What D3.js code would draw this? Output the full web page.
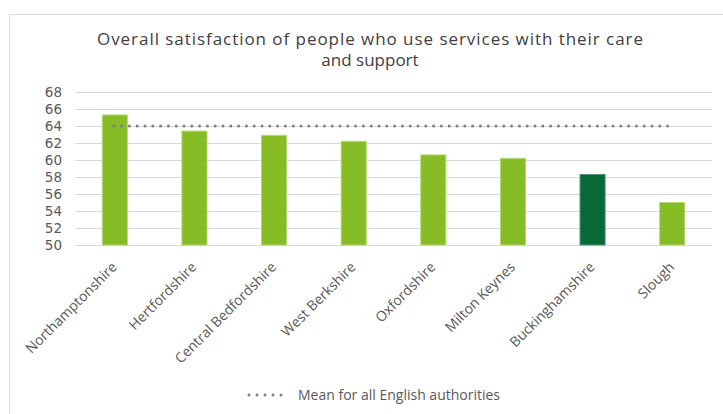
<!DOCTYPE html>
<html>
<head>
<meta charset="utf-8">
<script src="https://cdn.jsdelivr.net/npm/d3@7"></script>
<style>
  html, body { margin: 0; padding: 0; background: #fff; }
  svg { display: block; }
</style>
</head>
<body>
<svg id="chart" width="723" height="414"></svg>
<script>
// Local authorities and their overall satisfaction scores
const authorities = ["Northamptonshire", "Hertfordshire", "Central Bedfordshire", "West Berkshire",
                     "Oxfordshire", "Milton Keynes", "Buckinghamshire", "Slough"];
const satisfaction = [65.3, 63.4, 62.9, 62.2, 60.6, 60.2, 58.3, 55.0];
const englandMean = 64.0;
const highlighted = "Buckinghamshire";
const yTicks = [50, 52, 54, 56, 58, 60, 62, 64, 66, 68];
const titleLines = ["Overall satisfaction of people who use services with their care", "and support"];
const legendLabel = "Mean for all English authorities";

const svg = d3.select("#chart");
const W = 723, H = 414;
const plot = { left: 75, right: 712, top: 92, bottom: 245 };

// Outer chart frame
svg.append("rect")
  .attr("x", 9.5).attr("y", 14.5)
  .attr("width", W).attr("height", H)
  .attr("fill", "#fff").attr("stroke", "#d9d9d9");

// Title (first line spread to its full width)
svg.append("text")
  .attr("text-anchor", "middle")
  .attr("font-family", "'Open Sans', sans-serif")
  .attr("font-size", 17)
  .attr("fill", "#404040")
  .selectAll("tspan").data(titleLines).join("tspan")
  .attr("x", 370).attr("y", (d, i) => 45 + i * 21)
  .attr("textLength", (d, i) => i === 0 ? 546 : null)
  .attr("lengthAdjust", "spacing")
  .text(d => d);

const x = d3.scaleBand().domain(authorities).range([plot.left, plot.right]).paddingInner(0.685).paddingOuter(0.3425);
const y = d3.scaleLinear().domain([50, 68]).range([plot.bottom, plot.top]);

// Horizontal gridlines
svg.append("g")
  .selectAll("line").data(yTicks).join("line")
  .attr("x1", plot.left).attr("x2", plot.right)
  .attr("y1", d => Math.round(y(d)) + 0.5).attr("y2", d => Math.round(y(d)) + 0.5)
  .attr("stroke", "#d9d9d9").attr("stroke-width", 1);

// Y axis labels
const yAxis = d3.axisLeft(y).tickValues(yTicks).tickSize(0).tickPadding(0);
const gy = svg.append("g").attr("transform", `translate(62,0)`).call(yAxis);
gy.select(".domain").remove();
gy.selectAll("text")
  .attr("font-family", "'DejaVu Sans', Verdana, sans-serif")
  .attr("font-size", 13.5)
  .attr("fill", "#595959");

// Bars
svg.append("g")
  .selectAll("rect").data(authorities).join("rect")
  .attr("x", d => x(d))
  .attr("width", x.bandwidth())
  .attr("y", (d, i) => y(satisfaction[i]))
  .attr("height", (d, i) => y(50) - y(satisfaction[i]))
  .attr("fill", d => d === highlighted ? "#066a38" : "#86bc25")
  .attr("stroke", d => d === highlighted ? "#4f9470" : "#b6d874")
  .attr("stroke-width", 1);

// Mean reference line (dotted)
const meanLine = d3.line()
  .x(d => d[0]).y(d => d[1]);
svg.append("path")
  .attr("d", meanLine([[x(authorities[0]) + x.bandwidth() / 2 - 1, y(englandMean)],
                       [x(authorities[authorities.length - 1]) + x.bandwidth() / 2 - 4, y(englandMean)]]))
  .attr("fill", "none")
  .attr("stroke", "#808080")
  .attr("stroke-width", 3)
  .attr("stroke-linecap", "round")
  .attr("stroke-dasharray", "0 7.8");

// Category labels, rotated
const xAxis = d3.axisBottom(x).tickSize(0).tickPadding(0);
const gx = svg.append("g").attr("transform", `translate(0,${plot.bottom})`).call(xAxis);
gx.select(".domain").remove();
gx.selectAll("text")
  .attr("font-family", "'Open Sans', sans-serif")
  .attr("font-size", 14)
  .attr("fill", "#595959")
  .attr("text-anchor", "end")
  .attr("dy", 0)
  .attr("transform", "translate(3,23) rotate(-45)");

// Legend
const legend = svg.append("g").attr("transform", "translate(249,395)");
legend.append("path")
  .attr("d", d3.line()([[0, 0], [40, 0]]))
  .attr("stroke", "#808080")
  .attr("stroke-width", 3)
  .attr("stroke-linecap", "round")
  .attr("stroke-dasharray", "0 8");
legend.append("text")
  .attr("x", 49).attr("y", 5)
  .attr("font-family", "'Open Sans', sans-serif")
  .attr("font-size", 14)
  .attr("fill", "#595959")
  .text(legendLabel);
</script>
</body>
</html>
